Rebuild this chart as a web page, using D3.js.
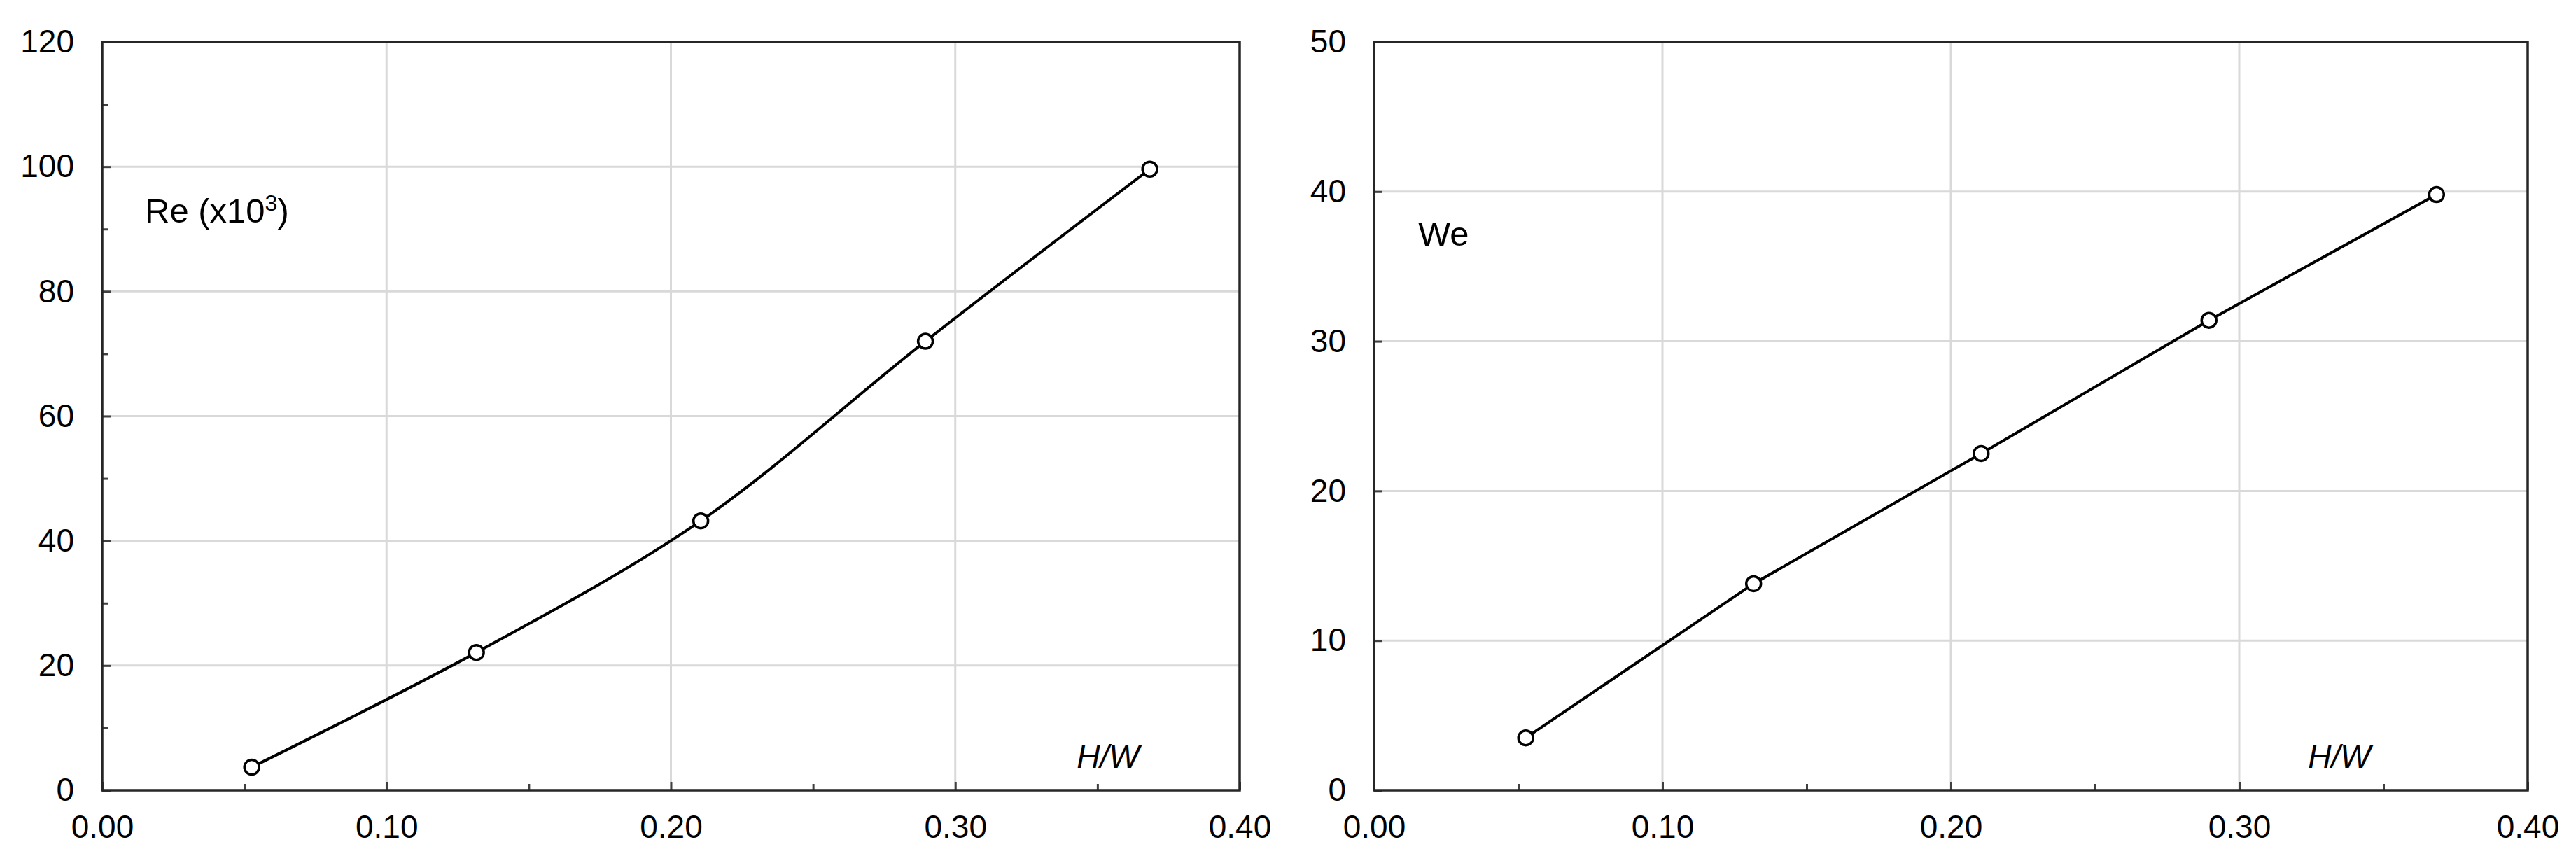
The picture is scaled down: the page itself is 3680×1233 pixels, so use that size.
<!DOCTYPE html>
<html>
<head>
<meta charset="utf-8">
<script src="https://cdn.jsdelivr.net/npm/d3@7"></script>
<style>
  body { margin: 0; background: #fff; }
  text { font-family: "Liberation Sans", Arial, sans-serif; fill: #000; }
  .domain { display: none; }
</style>
</head>
<body>
<div id="chart"></div>
<script>
var width = 3680,
    height = 1233;

// H/W values (shared by both panels)
var hw = [0.0526, 0.1316, 0.2105, 0.2895, 0.3684];
// Reynolds number (x10^3)
var reValues = [3.7, 22.1, 43.2, 72.0, 99.6];
// Weber number
var weValues = [3.5, 13.8, 22.5, 31.4, 39.8];

var xTicks = [0, 0.1, 0.2, 0.3, 0.4];
var xMinor = [0.05, 0.15, 0.25, 0.35];
var reTicks = [0, 20, 40, 60, 80, 100, 120];
var reMinor = [10, 30, 50, 70, 90, 110];
var weTicks = [0, 10, 20, 30, 40, 50];

var svg = d3.select("#chart").append("svg")
    .attr("width", width)
    .attr("height", height);

svg.append("rect").attr("width", width).attr("height", height).attr("fill", "#fff");

function drawPanel(p) {
    var x = d3.scaleLinear().domain([0, 0.4]).range([p.left, p.right]);
    var y = d3.scaleLinear().domain([0, p.ymax]).range([p.bottom, p.top]);
    var g = svg.append("g");

    // grid
    g.selectAll(".vgrid")
        .data(xTicks.filter(function (d) { return d > 0 && d < 0.4; }))
        .enter().append("line")
        .attr("x1", function (d) { return x(d); })
        .attr("x2", function (d) { return x(d); })
        .attr("y1", p.bottom).attr("y2", p.top)
        .attr("stroke", "#d9d9d9").attr("stroke-width", 3);
    g.selectAll(".hgrid")
        .data(p.yTicks.filter(function (d) { return d > 0 && d < p.ymax; }))
        .enter().append("line")
        .attr("y1", function (d) { return y(d); })
        .attr("y2", function (d) { return y(d); })
        .attr("x1", p.left).attr("x2", p.right)
        .attr("stroke", "#d9d9d9").attr("stroke-width", 3);

    // axes, ticks pointing inwards
    var xa = g.append("g").attr("transform", "translate(0," + p.bottom + ")")
        .call(d3.axisBottom(x).tickValues(xTicks).tickFormat(d3.format(".2f"))
            .tickSize(-12).tickPadding(35));
    g.append("g").attr("transform", "translate(0," + p.bottom + ")")
        .call(d3.axisBottom(x).tickValues(xMinor).tickFormat("").tickSize(-9));
    var ya = g.append("g").attr("transform", "translate(" + p.left + ",0)")
        .call(d3.axisLeft(y).tickValues(p.yTicks).tickSize(-12).tickPadding(40));
    if (p.yMinor) {
        g.append("g").attr("transform", "translate(" + p.left + ",0)")
            .call(d3.axisLeft(y).tickValues(p.yMinor).tickFormat("").tickSize(-9));
    }
    g.selectAll(".tick line").attr("stroke", "#404040").attr("stroke-width", 3);
    g.selectAll(".tick text").style("font-size", "46px").attr("fill", "#000");

    // frame
    g.append("rect")
        .attr("x", p.left).attr("y", p.top)
        .attr("width", p.right - p.left).attr("height", p.bottom - p.top)
        .attr("fill", "none").attr("stroke", "#262626").attr("stroke-width", 3.5);

    var pts = hw.map(function (h, i) { return [h, p.values[i]]; });
    var line = d3.line()
        .x(function (d) { return x(d[0]); })
        .y(function (d) { return y(d[1]); })
        .curve(p.curve);
    g.append("path").datum(pts)
        .attr("d", line)
        .attr("fill", "none").attr("stroke", "#000").attr("stroke-width", 4);
    g.selectAll(".pt").data(pts).enter().append("circle")
        .attr("cx", function (d) { return x(d[0]); })
        .attr("cy", function (d) { return y(d[1]); })
        .attr("r", 10.5)
        .attr("fill", "#fff").attr("stroke", "#000").attr("stroke-width", 3.5);

    // labels
    var t = g.append("text")
        .attr("x", p.labelX).attr("y", p.labelY)
        .style("font-size", "49px");
    t.append("tspan").text(p.label);
    if (p.sup) {
        t.append("tspan").attr("dy", -17).style("font-size", "32px").text(p.sup);
        t.append("tspan").attr("dy", 17).text(")");
    }
    g.append("text")
        .attr("x", p.hwX).attr("y", 1097)
        .attr("text-anchor", "middle")
        .style("font-size", "46px").style("font-style", "italic")
        .text("H/W");
}

drawPanel({
    left: 146, right: 1771, top: 60, bottom: 1129,
    ymax: 120, yTicks: reTicks, yMinor: reMinor, values: reValues,
    curve: d3.curveCatmullRom.alpha(0.5),
    label: "Re (x10", sup: "3", labelX: 207, labelY: 318, hwX: 1583
});

drawPanel({
    left: 1963, right: 3611, top: 60, bottom: 1129,
    ymax: 50, yTicks: weTicks, yMinor: null, values: weValues,
    curve: d3.curveLinear,
    label: "We", labelX: 2026, labelY: 351, hwX: 3342
});
</script>
</body>
</html>
